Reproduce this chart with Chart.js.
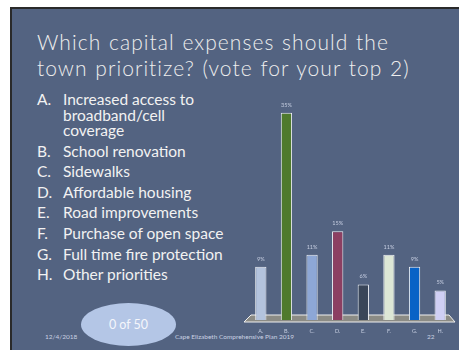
<!DOCTYPE html>
<html>
<head>
<meta charset="utf-8">
<script src="https://cdn.jsdelivr.net/npm/chart.js@4"></script>
<style>
  html, body { margin: 0; padding: 0; background: #ffffff; }
  #slide {
    position: absolute; left: 10px; top: 7px; width: 449px; height: 343px;
    background: #536381; border-top: 2px solid #2a2a2a; border-left: 2px solid #2a2a2a;
    box-sizing: border-box; overflow: hidden;
    font-family: Lato, "Open Sans", sans-serif; color: #f2f2f2;
  }
  .title {
    position: absolute; left: 25px; top: 20px; font-size: 21px; line-height: 26px;
    letter-spacing: 1.05px; word-spacing: 1px; white-space: nowrap; color: #eeeeee; font-weight: 300;
  }
  .list { position: absolute; left: 25px; top: 81px; font-size: 15.5px; }
  .item { position: absolute; left: 0; white-space: nowrap; }
  .item span { position: absolute; left: 26px; }
  .oval {
    position: absolute; left: 69px; top: 294px; width: 95px; height: 43px;
    border-radius: 50%; background: #b4c6e6; color: #f4f6fb;
    font-size: 12.5px; text-align: center; line-height: 43px;
  }
  .foot { position: absolute; top: 324px; font-size: 6.5px; color: #c9d1e2; white-space: nowrap; }
  #chartBox { position: absolute; left: 230px; top: 63px; width: 219px; height: 270px; }
</style>
</head>
<body>
<div id="slide">
  <div class="title">Which capital expenses should the<br>town prioritize? (vote for your top 2)</div>
  <div class="list" id="list"></div>
  <div class="oval">0 of 50</div>
  <div class="foot" style="left:33px">12/4/2018</div>
  <div class="foot" style="left:163px">Cape Elizabeth Comprehensive Plan 2019</div>
  <div class="foot" style="left:415px">22</div>
  <div id="chartBox"><canvas id="chart"></canvas></div>
</div>
<script>
// Dữ liệu biểu đồ
const letters = ["A.", "B.", "C.", "D.", "E.", "F.", "G.", "H."];
const options = [
  ["Increased access to", "broadband/cell", "coverage"],
  ["School renovation"],
  ["Sidewalks"],
  ["Affordable housing"],
  ["Road improvements"],
  ["Purchase of open space"],
  ["Full time fire protection"],
  ["Other priorities"]
];
const percents = [9, 35, 11, 15, 6, 11, 9, 5];
const valueLabels = ["9%", "35%", "11%", "15%", "6%", "11%", "9%", "5%"];
const barColors = ["#b3c3dd", "#4f7a2d", "#8da7d6", "#8c3f62", "#3a4659", "#dde7d6", "#0862c6", "#cfcff4"];

// Danh sách lựa chọn bên trái
const list = document.getElementById("list");
let y = 0;
letters.forEach((l, i) => {
  options[i].forEach((line, j) => {
    const div = document.createElement("div");
    div.className = "item";
    div.style.top = y + "px";
    div.innerHTML = (j === 0 ? l : "") + "<span>" + line + "</span>";
    list.appendChild(div);
    y += j < options[i].length - 1 ? 15.5 : 20.6;
  });
});

// Sàn 3D dưới các cột + nhãn
const floorPlugin = {
  id: "floor",
  beforeDatasetsDraw(chart) {
    const c = chart.ctx, a = chart.chartArea;
    const base = chart.scales.y.getPixelForValue(0);
    c.save();
    c.beginPath();
    c.moveTo(a.left + 3, base - 5);
    c.lineTo(a.right - 4, base - 5);
    c.lineTo(a.right + 2, base + 2);
    c.lineTo(a.left - 4, base + 2);
    c.closePath();
    c.fillStyle = "#8b8b85";
    c.fill();
    c.strokeStyle = "#f0f0f0";
    c.lineWidth = 1;
    c.stroke();
    c.restore();
  },
  afterDatasetsDraw(chart) {
    const c = chart.ctx;
    const meta = chart.getDatasetMeta(0);
    const base = chart.scales.y.getPixelForValue(0);
    c.save();
    c.textAlign = "center";
    c.font = "5.5px Lato";
    meta.data.forEach((bar, i) => {
      c.fillStyle = "#c5cde0";
      c.fillText(valueLabels[i], bar.x, bar.y - 6);
      c.fillText(letters[i], bar.x, base + 13);
    });
    c.restore();
  }
};

const ctx = document.getElementById("chart").getContext("2d");
const chart = new Chart(ctx, {
  type: "bar",
  data: {
    labels: letters,
    datasets: [{
      data: percents,
      backgroundColor: barColors,
      borderColor: "#eef0f4",
      borderWidth: 1,
      borderSkipped: "bottom",
      barPercentage: 0.44,
      categoryPercentage: 1
    }]
  },
  options: {
    responsive: true,
    maintainAspectRatio: false,
    animation: false,
    layout: { padding: { left: 6, right: 8, top: 11, bottom: 22 } },
    plugins: { legend: { display: false }, tooltip: { enabled: false } },
    scales: {
      x: { display: false },
      y: { display: false, min: 0, max: 40 }
    }
  },
  plugins: [floorPlugin]
});
</script>
</body>
</html>
